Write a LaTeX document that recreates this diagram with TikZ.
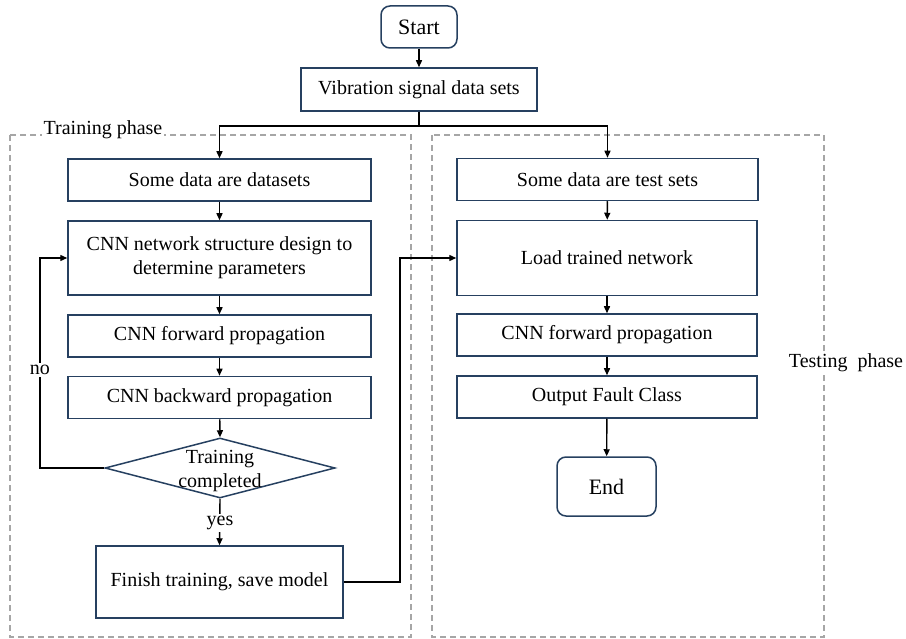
\documentclass[tikz,border=0pt]{standalone}
\usepackage{fontspec}
\setmainfont{Liberation Serif}
\usetikzlibrary{shapes.geometric,arrows.meta}
\definecolor{boxc}{RGB}{38,64,96}
\begin{document}
\begin{tikzpicture}[x=1pt,y=-1pt,
 box/.style={draw=boxc,line width=1.5pt,minimum width=303pt,minimum height=42pt,font=\fontsize{20}{24}\selectfont,align=center,inner sep=0},
 term/.style={draw=boxc,line width=1.5pt,rounded corners=9pt,font=\fontsize{22}{26}\selectfont},
 arr/.style={-{Triangle[length=7pt,width=6pt]},line width=1.4pt},
 ln/.style={line width=1.4pt},
 phase/.style={draw=gray!70,dash pattern=on 6pt off 4pt,line width=1.2pt},
 lab/.style={fill=white,font=\fontsize{20}{24}\selectfont,inner sep=2pt}]
\useasboundingbox (0,0) rectangle (906,639);
\draw[phase] (10,135) rectangle (411,637);
\draw[phase] (432,135) rectangle (824,637);
\node[lab] (trl) at (103,130) {Training phase};
\node[lab] (tel) at (846,363) {Testing~~phase};

\node[term,minimum width=76pt,minimum height=42pt] (start) at (419,27) {Start};
\node[box,minimum width=236pt,minimum height=43pt] (vib) at (419,89.5) {Vibration signal data sets};
\node[box] (ds) at (219.5,180) {Some data are datasets};
\node[box,minimum height=74pt] (cnnd) at (219.5,258) {CNN network structure design to\\determine parameters};
\node[box] (fwd) at (219.5,336) {CNN forward propagation};
\node[box] (bwd) at (219.5,397.5) {CNN backward propagation};
\node[draw=boxc,line width=1.5pt,diamond,minimum width=230pt,minimum height=60pt,inner sep=0] (dec) at (220,468) {};
\node[font=\fontsize{20}{24}\selectfont,align=center,inner sep=0] (dect) at (220,471) {Training\\completed};
\node[box,minimum width=247pt,minimum height=72pt] (fin) at (219.5,582) {Finish training, save model};

\node[box,minimum width=301pt] (ts) at (607.5,179.5) {Some data are test sets};
\node[box,minimum width=300pt,minimum height=75pt] (load) at (607,258) {Load trained network};
\node[box,minimum width=300pt] (fwd2) at (607,335) {CNN forward propagation};
\node[box,minimum width=300pt] (out) at (607,397) {Output Fault Class};
\node[term,minimum width=99pt,minimum height=59pt] (end) at (606.5,486.5) {End};

\coordinate (sp) at (419,126);
\coordinate (noc) at (40,258);
\coordinate (flc) at (400,258);
\draw[arr] (start) -- (vib);
\draw[ln] (vib) -- (sp);
\draw[arr] (sp) -| (ds);
\draw[arr] (sp) -| (ts);
\draw[arr] (ds) -- (cnnd);
\draw[arr] (cnnd) -- (fwd);
\draw[arr] (fwd) -- (bwd);
\draw[arr] (bwd) -- (dec.north);
\draw[arr] (dec.south) -- (fin.north);
\draw[arr] (dec.west) -| (noc) -- (cnnd.west);
\draw[arr] (fin.east) -| (flc) -- (load.west);
\draw[arr] (ts) -- (load);
\draw[arr] (load) -- (fwd2);
\draw[arr] (fwd2) -- (out);
\draw[arr] (out) -- (end);
\node[lab] (no) at (40,370) {no};
\node[lab] (yes) at (220,523) {yes};
\end{tikzpicture}
\end{document}
